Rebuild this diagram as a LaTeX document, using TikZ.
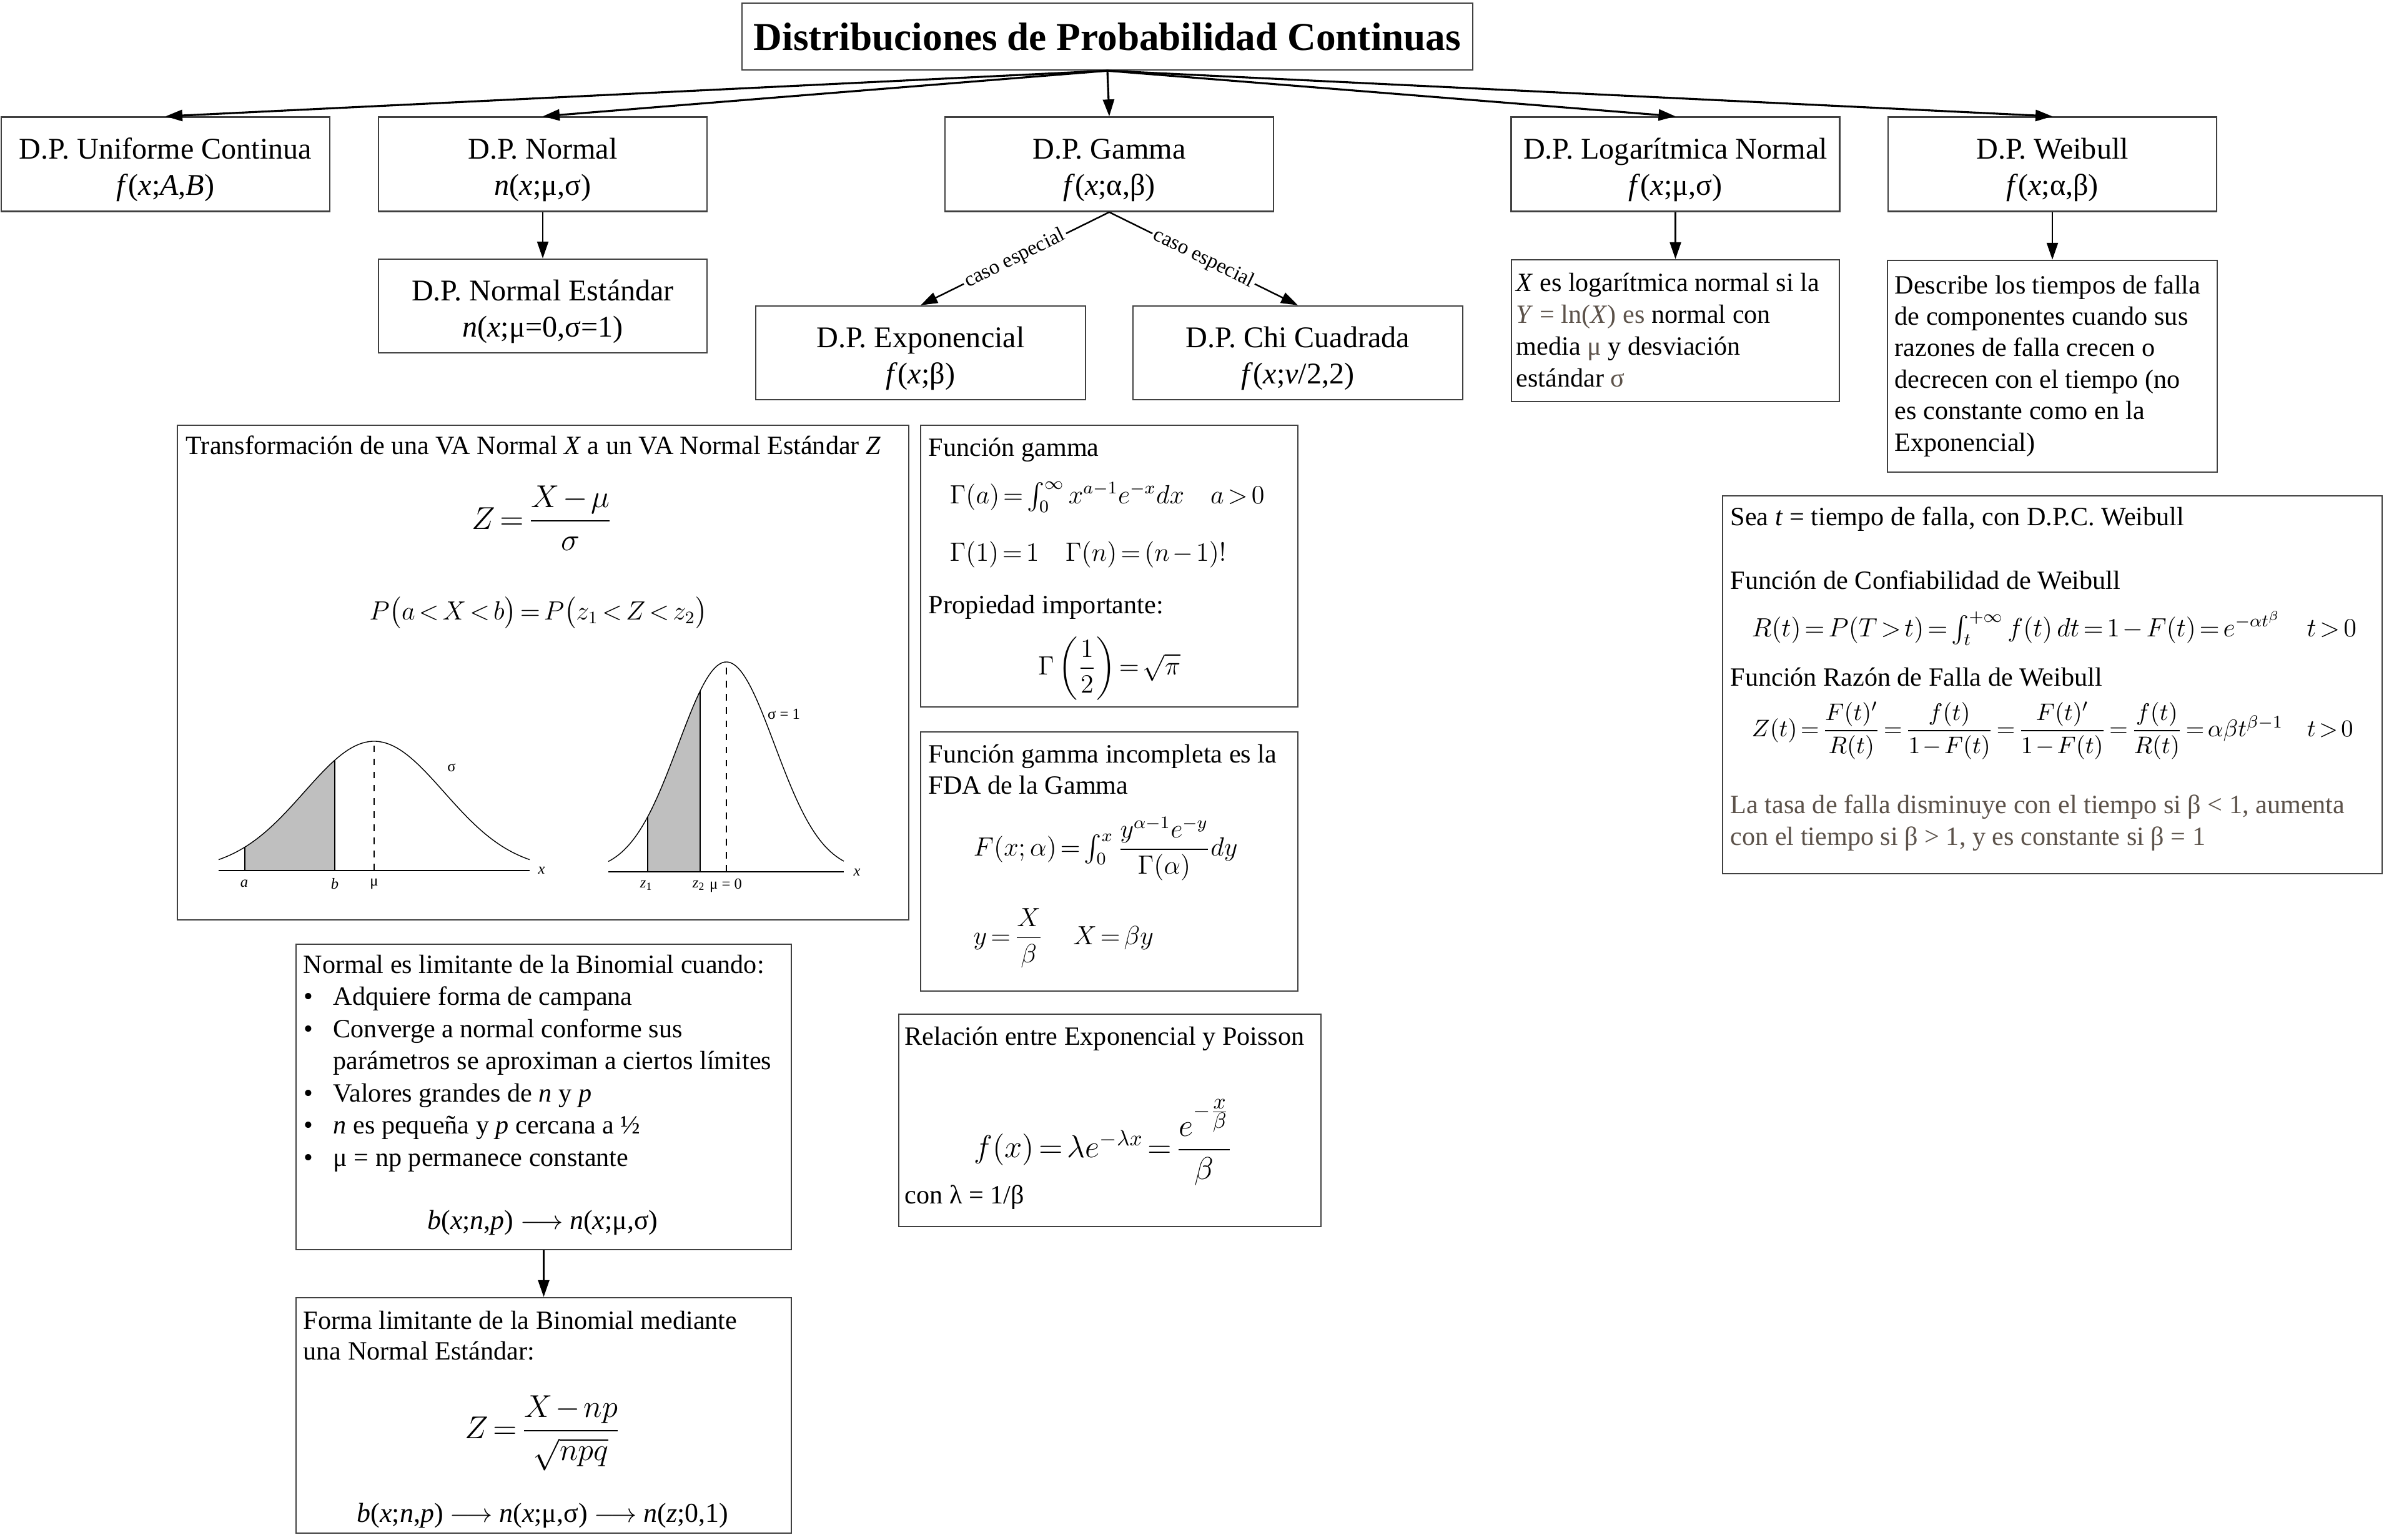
\documentclass[tikz,border=0pt]{standalone}
\usepackage{amsmath}
\usepackage{fontspec}
\setmainfont{Liberation Serif}
\usetikzlibrary{arrows.meta}
\definecolor{notegray}{RGB}{92,82,74}
\tikzset{dpbox/.style={draw=black!75,line width=0.7pt,fill=white,inner sep=0pt},
 head/.style={font=\fontsize{13.7}{16.5}\selectfont,align=center},
 txt/.style={font=\fontsize{12}{14.5}\selectfont,anchor=base west,inner sep=0pt},
 link/.style={-{Triangle[length=2.7mm,width=1.8mm]},line width=0.7pt},
 trunk/.style={link,line width=0.9pt},
 tag/.style={font=\fontsize{9.5}{11}\selectfont,sloped,fill=white,inner sep=1pt},
 mini/.style={font=\fontsize{7}{8}\selectfont,inner sep=0pt},
 curve/.style={line width=0.4pt},
 shade/.style={fill=black!25}}

\begin{document}
\begin{tikzpicture}
\thickmuskip=2.5mu plus 2mu \medmuskip=2mu plus 1mu
\useasboundingbox (0,0) rectangle (38.17,-24.65);
% title and the five distributions
\node[dpbox,minimum width=11.7cm,minimum height=1.07cm,font=\bfseries\fontsize{18}{21}\selectfont] (title) at (17.73,-0.585) {Distribuciones de Probabilidad Continuas};
\foreach \n/\x/\t/\f in {uni/2.65/{D.P. Uniforme Continua}/{\textit{f}(\textit{x};\textit{A},\textit{B})},
  normal/8.69/{D.P. Normal}/{\textit{n}(\textit{x};μ,σ)},
  gamma/17.76/{D.P. Gamma}/{\textit{f}(\textit{x};α,β)},
  lognorm/26.825/{D.P. Logarítmica Normal}/{\textit{f}(\textit{x};μ,σ)},
  weib/32.86/{D.P. Weibull}/{\textit{f}(\textit{x};α,β)}}
  \node[dpbox,head,minimum width=5.26cm,minimum height=1.51cm] (\n) at (\x,-2.63) {\rule{0pt}{1.05em}\t\\\f};
\node[dpbox,head,minimum width=5.26cm,minimum height=1.5cm] (normest) at (8.69,-4.9) {\rule{0pt}{1.05em}D.P. Normal Estándar\\\textit{n}(\textit{x};μ=0,σ=1)};
\node[dpbox,head,minimum width=5.28cm,minimum height=1.5cm] (expo) at (14.74,-5.65) {\rule{0pt}{1.05em}D.P. Exponencial\\\textit{f}(\textit{x};β)};
\node[dpbox,head,minimum width=5.28cm,minimum height=1.5cm] (chi) at (20.78,-5.65) {\rule{0pt}{1.05em}D.P. Chi Cuadrada\\\textit{f}(\textit{x};\textit{v}/2,2)};

% notes under log-normal and weibull
\node[dpbox,minimum width=5.25cm,minimum height=2.27cm] (logdesc) at (26.825,-5.295) {};
\foreach \t [count=\i from 0] in {{\textit{X} es logarítmica normal si la},
  {\textcolor{notegray}{\textit{Y} = ln(\textit{X}) es} normal con},
  {media \textcolor{notegray}{μ} y desviación},{estándar \textcolor{notegray}{σ}}}
  \node[txt] (logline\i) at (24.27,{-4.66-0.51*\i}) {\t};
\node[dpbox,minimum width=5.28cm,minimum height=3.39cm] (weibdesc) at (32.86,-5.865) {};
\foreach \t [count=\i from 0] in {Describe los tiempos de falla,de componentes cuando sus,
  razones de falla crecen o,decrecen con el tiempo (no,es constante como en la,Exponencial)}
  \node[txt] (weibline\i) at (30.33,{-4.70-0.504*\i}) {\t};

% normal to standard normal
\node[dpbox,minimum width=11.71cm,minimum height=7.92cm] (transf) at (8.695,-10.77) {};
\node[txt] (transfhead) at (2.97,-7.27) {Transformación de una VA Normal \textit{X} a un VA Normal Estándar \textit{Z}};
\node[font=\fontsize{14.4}{17}\selectfont] (zform) at (8.68,-8.30) {$Z=\dfrac{X-\mu}{\sigma}$};
\node[font=\fontsize{12}{15}\selectfont,anchor=base] (pform) at (8.62,-9.92) {$P\bigl(a<X<b\bigr)=P\bigl(z_1<Z<z_2\bigr)$};
\fill[shade] (3.92,-13.94) -- plot[domain=3.92:5.36,samples=30] (\x,{-13.94+2.07*exp(0-(\x-5.99)^2/2.5088)}) -- (5.36,-13.94) -- cycle;
\draw[curve] plot[domain=3.5:8.48,samples=90] (\x,{-13.94+2.07*exp(0-(\x-5.99)^2/2.5088)});
\draw[curve] (3.5,-13.94) -- (8.48,-13.94);
\foreach \x in {3.92,5.36}
  \draw[curve] (\x,-13.94) -- (\x,{-13.94+2.07*exp(0-(\x-5.99)^2/2.5088)});
\draw[curve,dashed] (5.99,-13.94) -- (5.99,-11.87);
\fill[shade] (10.37,-13.96) -- plot[domain=10.37:11.21,samples=30] (\x,{-13.96+3.36*exp(0-(\x-11.63)^2/1.1858)}) -- (11.21,-13.96) -- cycle;
\draw[curve] plot[domain=9.74:13.51,samples=90] (\x,{-13.96+3.36*exp(0-(\x-11.63)^2/1.1858)});
\draw[curve] (9.74,-13.96) -- (13.51,-13.96);
\foreach \x in {10.37,11.21}
  \draw[curve] (\x,-13.96) -- (\x,{-13.96+3.36*exp(0-(\x-11.63)^2/1.1858)});
\draw[curve,dashed] (11.63,-13.96) -- (11.63,-10.60);
\node[mini] (la) at (3.91,-14.15) {\textit{a}};
\node[mini] (lb) at (5.36,-14.15) {\textit{b}};
\node[mini] (lmu) at (5.99,-14.15) {μ};
\node[mini] (lx) at (8.67,-13.94) {\textit{x}};
\node[mini] (lsig) at (7.23,-12.29) {σ};
\node[mini] (rz1) at (10.35,-14.18) {\textit{z}\textsubscript{1}};
\node[mini] (rz2) at (11.19,-14.18) {\textit{z}\textsubscript{2}};
\node[mini] (rmu) at (11.62,-14.18) {μ = 0};
\node[mini] (rx) at (13.72,-13.97) {\textit{x}};
\node[mini] (rsig) at (12.55,-11.43) {σ = 1};

% gamma function
\node[dpbox,minimum width=6.04cm,minimum height=4.51cm] (gammafn) at (17.76,-9.065) {};
\node[txt] (gfhead) at (14.86,-7.30) {Función gamma};
\node[txt,font=\fontsize{12}{14}\selectfont] (gfdef) at (15.20,-8.06) {$\Gamma(a)=\int_0^\infty x^{a-1}e^{-x}dx\quad a>0$};
\node[txt,font=\fontsize{12}{14}\selectfont] (gfval) at (15.20,-8.98) {$\Gamma(1)=1\quad\Gamma(n)=(n-1)!$};
\node[txt] (gfprop) at (14.86,-9.82) {Propiedad importante:};
\node[font=\fontsize{12}{15}\selectfont] (gfhalf) at (17.76,-10.70) {$\Gamma\left(\dfrac{1}{2}\right)=\sqrt{\pi}$};

% incomplete gamma
\node[dpbox,minimum width=6.04cm,minimum height=4.15cm] (gammainc) at (17.76,-13.795) {};
\node[txt] (gihead) at (14.86,-12.21) {Función gamma incompleta es la};
\node[txt] (gihead2) at (14.86,-12.71) {FDA de la Gamma};
\node[anchor=west,inner sep=0pt,font=\fontsize{12}{15}\selectfont] (gicdf) at (15.58,-13.59) {$F(x;\alpha)=\int_0^x\dfrac{y^{\alpha-1}e^{-y}}{\Gamma(\alpha)}dy$};
\node[anchor=west,inner sep=0pt,font=\fontsize{12}{15}\selectfont] (gisub) at (15.58,-15.02) {$y=\dfrac{X}{\beta}\quad\; X=\beta y$};

% exponential and poisson
\node[dpbox,minimum width=6.76cm,minimum height=3.40cm] (relacion) at (17.77,-17.94) {};
\node[txt] (relhead) at (14.48,-16.73) {Relación entre Exponencial y Poisson};
\node[anchor=west,inner sep=0pt,font=\fontsize{14.4}{17}\selectfont] (relform) at (15.59,-18.29) {$f(x)=\lambda e^{-\lambda x}=\dfrac{e^{-\frac{\scriptstyle x}{\scriptstyle\beta}}}{\beta}$};
\node[txt] (rellam) at (14.48,-19.27) {con λ = 1/β};

% binomial limit
\node[dpbox,minimum width=7.93cm,minimum height=4.89cm] (binom) at (8.705,-17.565) {};
\node[txt] (binhead) at (4.85,-15.58) {Normal es limitante de la Binomial cuando:};
\foreach \t [count=\i] in {Adquiere forma de campana,Converge a normal conforme sus,
  parámetros se aproximan a ciertos límites,Valores grandes de \textit{n} y \textit{p},
  \textit{n} es pequeña y \textit{p} cercana a ½,μ = np permanece constante}
  \node[txt] (binline\i) at (5.33,{-15.58-0.515*\i}) {\t};
\foreach \i in {1,2,4,5,6}
  \node[txt,anchor=base] (bul\i) at (4.94,{-15.58-0.515*\i}) {•};
\node[txt,anchor=base,font=\fontsize{12.5}{15}\selectfont] (binlim) at (8.69,-19.68) {\textit{b}(\textit{x};\textit{n},\textit{p}) $\longrightarrow$ \textit{n}(\textit{x};μ,σ)};
\node[dpbox,minimum width=7.93cm,minimum height=3.77cm] (forma) at (8.705,-22.665) {};
\node[txt] (forhead) at (4.85,-21.28) {Forma limitante de la Binomial mediante};
\node[txt] (forhead2) at (4.85,-21.77) {una Normal Estándar:};
\node[font=\fontsize{14.4}{17}\selectfont] (forz) at (8.69,-22.95) {$Z=\dfrac{X-np}{\sqrt{npq}}$};
\node[txt,anchor=base,font=\fontsize{12.5}{15}\selectfont] (forlim) at (8.69,-24.37) {\textit{b}(\textit{x};\textit{n},\textit{p}) $\longrightarrow$ \textit{n}(\textit{x};μ,σ) $\longrightarrow$ \textit{n}(\textit{z};0,1)};

% weibull reliability
\node[dpbox,minimum width=10.56cm,minimum height=6.05cm] (weibform) at (32.86,-10.965) {};
\node[txt] (wfsea) at (27.70,-8.41) {Sea \textit{t} = tiempo de falla, con D.P.C. Weibull};
\node[txt] (wfconf) at (27.70,-9.43) {Función de Confiabilidad de Weibull};
\node[txt,font=\fontsize{12}{15}\selectfont] (wfrel) at (28.04,-10.19) {$R(t)=P(T>t)=\int_t^{+\infty}f(t)\,dt=1-F(t)=e^{-\alpha t^{\beta}}\quad t>0$};
\node[txt] (wfraz) at (27.70,-10.98) {Función Razón de Falla de Weibull};
\node[anchor=west,inner sep=0pt,font=\fontsize{10.95}{14}\selectfont] (wfhaz) at (28.04,-11.70) {$Z(t)=\dfrac{F(t)'}{R(t)}=\dfrac{f(t)}{1-F(t)}=\dfrac{F(t)'}{1-F(t)}=\dfrac{f(t)}{R(t)}=\alpha\beta t^{\beta-1}\quad t>0$};
\node[txt,text=notegray] (wfnote) at (27.70,-13.02) {La tasa de falla disminuye con el tiempo si β < 1, aumenta};
\node[txt,text=notegray] (wfnote2) at (27.70,-13.53) {con el tiempo si β > 1, y es constante si β = 1};

% connectors
\foreach \n in {uni,normal,gamma,lognorm,weib}
  \draw[trunk] (title.south) -- (\n.north);
\draw[link] (normal) -- (normest);
\draw[link] (gamma.south) -- node[tag] (tagexpo) {caso especial} (expo.north);
\draw[link] (gamma.south) -- node[tag] (tagchi) {caso especial} (chi.north);
\draw[link] (lognorm) -- (logdesc);
\draw[link] (weib) -- (weibdesc);
\draw[link] (binom) -- (forma);
\end{tikzpicture}
\end{document}
